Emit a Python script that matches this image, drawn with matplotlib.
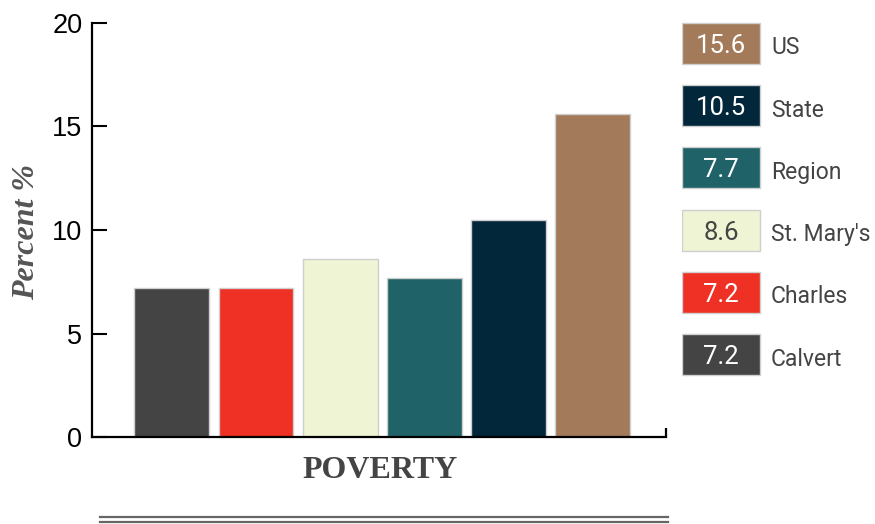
import matplotlib
matplotlib.use("Agg")
import matplotlib.pyplot as plt
from matplotlib.patches import Rectangle

# Poverty rate by area, percent
areas = ["Calvert", "Charles", "St. Mary's", "Region", "State", "US"]
poverty = [7.2, 7.2, 8.6, 7.7, 10.5, 15.6]
colors = ["#444444", "#ee3124", "#eff4d4", "#1f6369", "#02263a", "#a37b5a"]
number_colors = ["white", "white", "#444444", "white", "white", "white"]
yticks = [0, 5, 10, 15, 20]

fig = plt.figure(figsize=(8.75, 5.24), dpi=100)
W, H = 875, 524

ax = fig.add_axes([92 / W, 1 - 437 / H, (666 - 92) / W, (437 - 23) / H])
x = list(range(len(areas)))
ax.bar(x, poverty, width=0.89, color=colors, edgecolor="#cfcfcf", linewidth=1)
ax.set_xlim(-0.95, 5.875)
ax.set_ylim(0, 20)
ax.set_yticks(yticks)
ax.set_xticks([])

for side in ("top", "right"):
    ax.spines[side].set_visible(False)
for side in ("left", "bottom"):
    ax.spines[side].set_linewidth(1.6)
    ax.spines[side].set_color("black")
ax.tick_params(axis="y", direction="in", length=11, width=1.5, pad=7,
               labelsize=19.5, labelcolor="black")
for lab in ax.get_yticklabels():
    lab.set_fontfamily("Liberation Sans")

# small upturned end of the baseline
ax.plot([1, 1], [0, 0.022], transform=ax.transAxes, color="black",
        linewidth=1.6, clip_on=False, solid_capstyle="butt")

fig.text(27 / W, 1 - 232 / H, "Percent %", rotation=90, ha="center", va="center",
         family="Liberation Serif", weight="bold", style="italic",
         fontsize=23, color="#555555")
fig.text(380 / W, 1 - 471 / H, "POVERTY", ha="center", va="center",
         family="Liberation Serif", weight="bold", fontsize=23, color="#444444")

# double rule under the title
for yy in (517, 521.5):
    fig.add_artist(plt.Line2D([100 / W, 668 / W], [1 - yy / H, 1 - yy / H],
                              color="#666666", linewidth=1.6))

# value legend on the right, drawn in pixel-like units
lax = fig.add_axes([682 / W, 1 - 380 / H, (W - 682) / W, (380 - 20) / H])
lax.set_xlim(0, W - 682)
lax.set_ylim(360, 0)
lax.axis("off")
for i, idx in enumerate(reversed(range(len(areas)))):
    top = 3 + i * 62.2
    lax.add_patch(Rectangle((0, top), 78, 41, facecolor=colors[idx],
                            edgecolor="#cfcfcf", linewidth=1))
    lax.text(39, top + 23, f"{poverty[idx]:.1f}", ha="center", va="center",
             family="Roboto", fontsize=18.5, color=number_colors[idx])
    lax.text(89, top + 25, areas[idx], ha="left", va="center",
             family="Roboto", fontsize=16.5, color="#444444")

fig.savefig("out.png", dpi=100)
plt.close(fig)
